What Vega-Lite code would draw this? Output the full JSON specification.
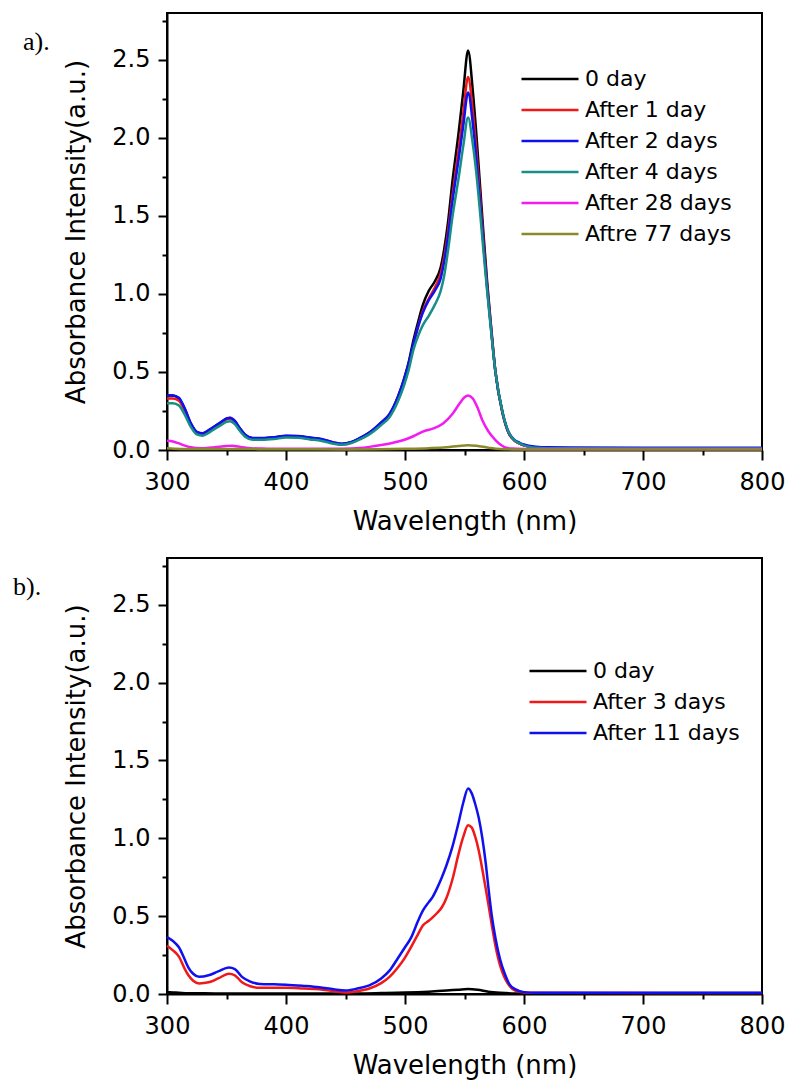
{
  "$schema": "https://vega.github.io/schema/vega-lite/v6.json",
  "background": "white",
  "padding": {"left": 12, "top": 12, "right": 5, "bottom": 5},
  "spacing": 22,
  "resolve": {"scale": {"color": "independent"}, "legend": {"color": "independent"}},
  "config": {
    "font": "DejaVu Sans",
    "view": {"stroke": "black", "strokeWidth": 2},
    "axis": {
      "domainColor": "black", "domainWidth": 2,
      "tickColor": "black", "tickWidth": 2,
      "labelFont": "DejaVu Sans", "labelFontSize": 24, "labelColor": "black",
      "labelPadding": 7, "labelFlush": false, "labelOverlap": false, "labelBound": false,
      "titleFont": "DejaVu Sans", "titleFontSize": 26, "titleFontWeight": "normal", "titleColor": "black",
      "grid": false
    },
    "legend": {
      "labelFont": "DejaVu Sans", "labelFontSize": 22, "labelColor": "black", "labelLimit": 400,
      "symbolType": "M-3,0H3", "symbolSize": 361, "symbolStrokeWidth": 2.5,
      "symbolOffset": 18, "labelOffset": 24, "rowPadding": 9
    },
    "title": {"font": "Liberation Serif", "fontSize": 26, "fontWeight": "normal", "color": "black", "anchor": "start", "frame": "group"}
  },
  "datasets": {
    "a": [
      {"s":"0 day","w":300,"v":0.35},{"s":"0 day","w":305,"v":0.35},{"s":"0 day","w":310,"v":0.33},{"s":"0 day","w":315,"v":0.26},{"s":"0 day","w":320,"v":0.17},{"s":"0 day","w":325,"v":0.115},{"s":"0 day","w":330,"v":0.105},{"s":"0 day","w":335,"v":0.125},{"s":"0 day","w":340,"v":0.15},{"s":"0 day","w":345,"v":0.175},{"s":"0 day","w":350,"v":0.2},{"s":"0 day","w":353,"v":0.205},{"s":"0 day","w":357,"v":0.185},{"s":"0 day","w":361,"v":0.14},{"s":"0 day","w":366,"v":0.095},{"s":"0 day","w":372,"v":0.075},{"s":"0 day","w":380,"v":0.075},{"s":"0 day","w":390,"v":0.08},{"s":"0 day","w":400,"v":0.09},{"s":"0 day","w":410,"v":0.088},{"s":"0 day","w":420,"v":0.078},{"s":"0 day","w":430,"v":0.068},{"s":"0 day","w":440,"v":0.047},{"s":"0 day","w":447,"v":0.038},{"s":"0 day","w":455,"v":0.05},{"s":"0 day","w":462,"v":0.075},{"s":"0 day","w":470,"v":0.11},{"s":"0 day","w":480,"v":0.175},{"s":"0 day","w":487,"v":0.23},{"s":"0 day","w":494,"v":0.34},{"s":"0 day","w":499,"v":0.45},{"s":"0 day","w":503,"v":0.56},{"s":"0 day","w":507,"v":0.7},{"s":"0 day","w":511,"v":0.82},{"s":"0 day","w":515,"v":0.93},{"s":"0 day","w":520,"v":1.02},{"s":"0 day","w":525,"v":1.08},{"s":"0 day","w":530,"v":1.17},{"s":"0 day","w":533,"v":1.29},{"s":"0 day","w":536,"v":1.45},{"s":"0 day","w":540,"v":1.73},{"s":"0 day","w":545,"v":2.03},{"s":"0 day","w":549,"v":2.3},{"s":"0 day","w":553,"v":2.56},{"s":"0 day","w":557,"v":2.3},{"s":"0 day","w":560,"v":2.02},{"s":"0 day","w":563,"v":1.7},{"s":"0 day","w":566,"v":1.38},{"s":"0 day","w":569,"v":1.08},{"s":"0 day","w":572,"v":0.82},{"s":"0 day","w":576,"v":0.5},{"s":"0 day","w":582,"v":0.235},{"s":"0 day","w":587,"v":0.11},{"s":"0 day","w":592,"v":0.06},{"s":"0 day","w":596,"v":0.043},{"s":"0 day","w":600,"v":0.03},{"s":"0 day","w":605,"v":0.02},{"s":"0 day","w":610,"v":0.015},{"s":"0 day","w":620,"v":0.012},{"s":"0 day","w":700,"v":0.01},{"s":"0 day","w":800,"v":0.01},

      {"s":"After 1 day","w":300,"v":0.33},{"s":"After 1 day","w":305,"v":0.33},{"s":"After 1 day","w":310,"v":0.315},{"s":"After 1 day","w":315,"v":0.25},{"s":"After 1 day","w":320,"v":0.165},{"s":"After 1 day","w":325,"v":0.112},{"s":"After 1 day","w":330,"v":0.102},{"s":"After 1 day","w":335,"v":0.122},{"s":"After 1 day","w":340,"v":0.147},{"s":"After 1 day","w":345,"v":0.172},{"s":"After 1 day","w":350,"v":0.196},{"s":"After 1 day","w":353,"v":0.2},{"s":"After 1 day","w":357,"v":0.18},{"s":"After 1 day","w":361,"v":0.137},{"s":"After 1 day","w":366,"v":0.093},{"s":"After 1 day","w":372,"v":0.073},{"s":"After 1 day","w":380,"v":0.073},{"s":"After 1 day","w":390,"v":0.078},{"s":"After 1 day","w":400,"v":0.088},{"s":"After 1 day","w":410,"v":0.086},{"s":"After 1 day","w":420,"v":0.076},{"s":"After 1 day","w":430,"v":0.066},{"s":"After 1 day","w":440,"v":0.046},{"s":"After 1 day","w":447,"v":0.037},{"s":"After 1 day","w":455,"v":0.049},{"s":"After 1 day","w":462,"v":0.073},{"s":"After 1 day","w":470,"v":0.108},{"s":"After 1 day","w":480,"v":0.172},{"s":"After 1 day","w":487,"v":0.225},{"s":"After 1 day","w":494,"v":0.33},{"s":"After 1 day","w":499,"v":0.44},{"s":"After 1 day","w":503,"v":0.54},{"s":"After 1 day","w":507,"v":0.67},{"s":"After 1 day","w":511,"v":0.79},{"s":"After 1 day","w":515,"v":0.89},{"s":"After 1 day","w":520,"v":0.97},{"s":"After 1 day","w":525,"v":1.04},{"s":"After 1 day","w":530,"v":1.13},{"s":"After 1 day","w":533,"v":1.24},{"s":"After 1 day","w":536,"v":1.39},{"s":"After 1 day","w":540,"v":1.64},{"s":"After 1 day","w":545,"v":1.92},{"s":"After 1 day","w":549,"v":2.16},{"s":"After 1 day","w":553,"v":2.39},{"s":"After 1 day","w":557,"v":2.17},{"s":"After 1 day","w":560,"v":1.92},{"s":"After 1 day","w":563,"v":1.63},{"s":"After 1 day","w":566,"v":1.33},{"s":"After 1 day","w":569,"v":1.05},{"s":"After 1 day","w":572,"v":0.81},{"s":"After 1 day","w":576,"v":0.5},{"s":"After 1 day","w":582,"v":0.235},{"s":"After 1 day","w":587,"v":0.11},{"s":"After 1 day","w":592,"v":0.06},{"s":"After 1 day","w":596,"v":0.043},{"s":"After 1 day","w":600,"v":0.03},{"s":"After 1 day","w":605,"v":0.02},{"s":"After 1 day","w":610,"v":0.015},{"s":"After 1 day","w":620,"v":0.012},{"s":"After 1 day","w":700,"v":0.01},{"s":"After 1 day","w":800,"v":0.01},

      {"s":"After 2 days","w":300,"v":0.35},{"s":"After 2 days","w":305,"v":0.35},{"s":"After 2 days","w":310,"v":0.335},{"s":"After 2 days","w":315,"v":0.265},{"s":"After 2 days","w":320,"v":0.172},{"s":"After 2 days","w":325,"v":0.117},{"s":"After 2 days","w":330,"v":0.107},{"s":"After 2 days","w":335,"v":0.127},{"s":"After 2 days","w":340,"v":0.152},{"s":"After 2 days","w":345,"v":0.177},{"s":"After 2 days","w":350,"v":0.202},{"s":"After 2 days","w":353,"v":0.207},{"s":"After 2 days","w":357,"v":0.187},{"s":"After 2 days","w":361,"v":0.142},{"s":"After 2 days","w":366,"v":0.097},{"s":"After 2 days","w":372,"v":0.077},{"s":"After 2 days","w":380,"v":0.077},{"s":"After 2 days","w":390,"v":0.082},{"s":"After 2 days","w":400,"v":0.092},{"s":"After 2 days","w":410,"v":0.09},{"s":"After 2 days","w":420,"v":0.08},{"s":"After 2 days","w":430,"v":0.07},{"s":"After 2 days","w":440,"v":0.049},{"s":"After 2 days","w":447,"v":0.04},{"s":"After 2 days","w":455,"v":0.052},{"s":"After 2 days","w":462,"v":0.077},{"s":"After 2 days","w":470,"v":0.112},{"s":"After 2 days","w":480,"v":0.177},{"s":"After 2 days","w":487,"v":0.23},{"s":"After 2 days","w":494,"v":0.34},{"s":"After 2 days","w":499,"v":0.45},{"s":"After 2 days","w":503,"v":0.55},{"s":"After 2 days","w":507,"v":0.68},{"s":"After 2 days","w":511,"v":0.79},{"s":"After 2 days","w":515,"v":0.88},{"s":"After 2 days","w":520,"v":0.96},{"s":"After 2 days","w":525,"v":1.02},{"s":"After 2 days","w":530,"v":1.1},{"s":"After 2 days","w":533,"v":1.21},{"s":"After 2 days","w":536,"v":1.36},{"s":"After 2 days","w":540,"v":1.6},{"s":"After 2 days","w":545,"v":1.86},{"s":"After 2 days","w":549,"v":2.08},{"s":"After 2 days","w":553,"v":2.29},{"s":"After 2 days","w":557,"v":2.09},{"s":"After 2 days","w":560,"v":1.86},{"s":"After 2 days","w":563,"v":1.59},{"s":"After 2 days","w":566,"v":1.31},{"s":"After 2 days","w":569,"v":1.04},{"s":"After 2 days","w":572,"v":0.8},{"s":"After 2 days","w":576,"v":0.5},{"s":"After 2 days","w":582,"v":0.24},{"s":"After 2 days","w":587,"v":0.115},{"s":"After 2 days","w":592,"v":0.065},{"s":"After 2 days","w":596,"v":0.048},{"s":"After 2 days","w":600,"v":0.035},{"s":"After 2 days","w":605,"v":0.026},{"s":"After 2 days","w":610,"v":0.021},{"s":"After 2 days","w":620,"v":0.017},{"s":"After 2 days","w":700,"v":0.015},{"s":"After 2 days","w":800,"v":0.015},

      {"s":"After 4 days","w":300,"v":0.3},{"s":"After 4 days","w":305,"v":0.3},{"s":"After 4 days","w":310,"v":0.285},{"s":"After 4 days","w":315,"v":0.225},{"s":"After 4 days","w":320,"v":0.148},{"s":"After 4 days","w":325,"v":0.1},{"s":"After 4 days","w":330,"v":0.092},{"s":"After 4 days","w":335,"v":0.11},{"s":"After 4 days","w":340,"v":0.135},{"s":"After 4 days","w":345,"v":0.158},{"s":"After 4 days","w":350,"v":0.18},{"s":"After 4 days","w":353,"v":0.185},{"s":"After 4 days","w":357,"v":0.166},{"s":"After 4 days","w":361,"v":0.125},{"s":"After 4 days","w":366,"v":0.083},{"s":"After 4 days","w":372,"v":0.065},{"s":"After 4 days","w":380,"v":0.065},{"s":"After 4 days","w":390,"v":0.07},{"s":"After 4 days","w":400,"v":0.08},{"s":"After 4 days","w":410,"v":0.078},{"s":"After 4 days","w":420,"v":0.068},{"s":"After 4 days","w":430,"v":0.058},{"s":"After 4 days","w":440,"v":0.04},{"s":"After 4 days","w":447,"v":0.033},{"s":"After 4 days","w":455,"v":0.045},{"s":"After 4 days","w":462,"v":0.068},{"s":"After 4 days","w":470,"v":0.1},{"s":"After 4 days","w":480,"v":0.16},{"s":"After 4 days","w":487,"v":0.21},{"s":"After 4 days","w":494,"v":0.31},{"s":"After 4 days","w":499,"v":0.41},{"s":"After 4 days","w":503,"v":0.51},{"s":"After 4 days","w":507,"v":0.64},{"s":"After 4 days","w":511,"v":0.73},{"s":"After 4 days","w":515,"v":0.8},{"s":"After 4 days","w":520,"v":0.86},{"s":"After 4 days","w":525,"v":0.93},{"s":"After 4 days","w":530,"v":1.02},{"s":"After 4 days","w":533,"v":1.12},{"s":"After 4 days","w":536,"v":1.27},{"s":"After 4 days","w":540,"v":1.5},{"s":"After 4 days","w":545,"v":1.74},{"s":"After 4 days","w":549,"v":1.95},{"s":"After 4 days","w":553,"v":2.13},{"s":"After 4 days","w":557,"v":1.96},{"s":"After 4 days","w":560,"v":1.77},{"s":"After 4 days","w":563,"v":1.53},{"s":"After 4 days","w":566,"v":1.27},{"s":"After 4 days","w":569,"v":1.02},{"s":"After 4 days","w":572,"v":0.79},{"s":"After 4 days","w":576,"v":0.5},{"s":"After 4 days","w":582,"v":0.24},{"s":"After 4 days","w":587,"v":0.115},{"s":"After 4 days","w":592,"v":0.062},{"s":"After 4 days","w":596,"v":0.044},{"s":"After 4 days","w":600,"v":0.03},{"s":"After 4 days","w":605,"v":0.02},{"s":"After 4 days","w":610,"v":0.015},{"s":"After 4 days","w":620,"v":0.012},{"s":"After 4 days","w":700,"v":0.01},{"s":"After 4 days","w":800,"v":0.01},

      {"s":"After 28 days","w":300,"v":0.06},{"s":"After 28 days","w":305,"v":0.055},{"s":"After 28 days","w":310,"v":0.042},{"s":"After 28 days","w":315,"v":0.028},{"s":"After 28 days","w":320,"v":0.018},{"s":"After 28 days","w":325,"v":0.013},{"s":"After 28 days","w":330,"v":0.012},{"s":"After 28 days","w":340,"v":0.018},{"s":"After 28 days","w":350,"v":0.026},{"s":"After 28 days","w":355,"v":0.028},{"s":"After 28 days","w":360,"v":0.022},{"s":"After 28 days","w":370,"v":0.012},{"s":"After 28 days","w":380,"v":0.009},{"s":"After 28 days","w":400,"v":0.008},{"s":"After 28 days","w":420,"v":0.008},{"s":"After 28 days","w":440,"v":0.008},{"s":"After 28 days","w":455,"v":0.01},{"s":"After 28 days","w":462,"v":0.013},{"s":"After 28 days","w":470,"v":0.02},{"s":"After 28 days","w":480,"v":0.032},{"s":"After 28 days","w":490,"v":0.047},{"s":"After 28 days","w":499,"v":0.064},{"s":"After 28 days","w":507,"v":0.088},{"s":"After 28 days","w":515,"v":0.118},{"s":"After 28 days","w":524,"v":0.138},{"s":"After 28 days","w":532,"v":0.17},{"s":"After 28 days","w":540,"v":0.232},{"s":"After 28 days","w":546,"v":0.3},{"s":"After 28 days","w":550,"v":0.338},{"s":"After 28 days","w":553,"v":0.35},{"s":"After 28 days","w":557,"v":0.33},{"s":"After 28 days","w":561,"v":0.27},{"s":"After 28 days","w":565,"v":0.19},{"s":"After 28 days","w":570,"v":0.12},{"s":"After 28 days","w":576,"v":0.064},{"s":"After 28 days","w":581,"v":0.03},{"s":"After 28 days","w":585,"v":0.014},{"s":"After 28 days","w":590,"v":0.009},{"s":"After 28 days","w":600,"v":0.007},{"s":"After 28 days","w":620,"v":0.006},{"s":"After 28 days","w":700,"v":0.006},{"s":"After 28 days","w":800,"v":0.006},

      {"s":" Aftre 77 days","w":300,"v":0.012},{"s":" Aftre 77 days","w":320,"v":0.006},{"s":" Aftre 77 days","w":350,"v":0.006},{"s":" Aftre 77 days","w":400,"v":0.005},{"s":" Aftre 77 days","w":450,"v":0.004},{"s":" Aftre 77 days","w":500,"v":0.008},{"s":" Aftre 77 days","w":520,"v":0.012},{"s":" Aftre 77 days","w":535,"v":0.018},{"s":" Aftre 77 days","w":545,"v":0.026},{"s":" Aftre 77 days","w":553,"v":0.031},{"s":" Aftre 77 days","w":560,"v":0.027},{"s":" Aftre 77 days","w":570,"v":0.015},{"s":" Aftre 77 days","w":580,"v":0.006},{"s":" Aftre 77 days","w":590,"v":0.004},{"s":" Aftre 77 days","w":620,"v":0.004},{"s":" Aftre 77 days","w":800,"v":0.004}
    ],
    "b": [
      {"s":"0 day","w":300,"v":0.012},{"s":"0 day","w":305,"v":0.01},{"s":"0 day","w":310,"v":0.008},{"s":"0 day","w":318,"v":0.005},{"s":"0 day","w":340,"v":0.004},{"s":"0 day","w":400,"v":0.004},{"s":"0 day","w":460,"v":0.004},{"s":"0 day","w":480,"v":0.006},{"s":"0 day","w":500,"v":0.009},{"s":"0 day","w":520,"v":0.015},{"s":"0 day","w":535,"v":0.022},{"s":"0 day","w":545,"v":0.028},{"s":"0 day","w":553,"v":0.032},{"s":"0 day","w":561,"v":0.027},{"s":"0 day","w":570,"v":0.015},{"s":"0 day","w":580,"v":0.008},{"s":"0 day","w":593,"v":0.004},{"s":"0 day","w":800,"v":0.004},

      {"s":"After 3 days","w":300,"v":0.31},{"s":"After 3 days","w":305,"v":0.28},{"s":"After 3 days","w":310,"v":0.24},{"s":"After 3 days","w":315,"v":0.16},{"s":"After 3 days","w":318,"v":0.12},{"s":"After 3 days","w":322,"v":0.085},{"s":"After 3 days","w":327,"v":0.068},{"s":"After 3 days","w":335,"v":0.075},{"s":"After 3 days","w":343,"v":0.1},{"s":"After 3 days","w":352,"v":0.13},{"s":"After 3 days","w":357,"v":0.12},{"s":"After 3 days","w":363,"v":0.075},{"s":"After 3 days","w":370,"v":0.05},{"s":"After 3 days","w":378,"v":0.04},{"s":"After 3 days","w":390,"v":0.04},{"s":"After 3 days","w":400,"v":0.04},{"s":"After 3 days","w":415,"v":0.035},{"s":"After 3 days","w":428,"v":0.03},{"s":"After 3 days","w":440,"v":0.018},{"s":"After 3 days","w":450,"v":0.01},{"s":"After 3 days","w":460,"v":0.018},{"s":"After 3 days","w":470,"v":0.035},{"s":"After 3 days","w":480,"v":0.07},{"s":"After 3 days","w":487,"v":0.11},{"s":"After 3 days","w":494,"v":0.17},{"s":"After 3 days","w":500,"v":0.234},{"s":"After 3 days","w":505,"v":0.3},{"s":"After 3 days","w":511,"v":0.385},{"s":"After 3 days","w":515,"v":0.44},{"s":"After 3 days","w":520,"v":0.47},{"s":"After 3 days","w":523,"v":0.49},{"s":"After 3 days","w":527,"v":0.52},{"s":"After 3 days","w":531,"v":0.557},{"s":"After 3 days","w":535,"v":0.62},{"s":"After 3 days","w":540,"v":0.74},{"s":"After 3 days","w":545,"v":0.9},{"s":"After 3 days","w":549,"v":1.01},{"s":"After 3 days","w":553,"v":1.084},{"s":"After 3 days","w":556,"v":1.07},{"s":"After 3 days","w":559,"v":1.01},{"s":"After 3 days","w":562,"v":0.92},{"s":"After 3 days","w":565,"v":0.8},{"s":"After 3 days","w":568,"v":0.67},{"s":"After 3 days","w":570,"v":0.58},{"s":"After 3 days","w":573,"v":0.44},{"s":"After 3 days","w":576,"v":0.31},{"s":"After 3 days","w":580,"v":0.18},{"s":"After 3 days","w":584,"v":0.1},{"s":"After 3 days","w":588,"v":0.05},{"s":"After 3 days","w":593,"v":0.02},{"s":"After 3 days","w":600,"v":0.01},{"s":"After 3 days","w":610,"v":0.008},{"s":"After 3 days","w":800,"v":0.006},

      {"s":"After 11 days","w":300,"v":0.365},{"s":"After 11 days","w":305,"v":0.34},{"s":"After 11 days","w":310,"v":0.3},{"s":"After 11 days","w":315,"v":0.22},{"s":"After 11 days","w":318,"v":0.17},{"s":"After 11 days","w":322,"v":0.13},{"s":"After 11 days","w":327,"v":0.11},{"s":"After 11 days","w":335,"v":0.12},{"s":"After 11 days","w":343,"v":0.145},{"s":"After 11 days","w":352,"v":0.17},{"s":"After 11 days","w":357,"v":0.16},{"s":"After 11 days","w":363,"v":0.11},{"s":"After 11 days","w":370,"v":0.08},{"s":"After 11 days","w":378,"v":0.065},{"s":"After 11 days","w":390,"v":0.062},{"s":"After 11 days","w":400,"v":0.06},{"s":"After 11 days","w":415,"v":0.052},{"s":"After 11 days","w":428,"v":0.043},{"s":"After 11 days","w":440,"v":0.03},{"s":"After 11 days","w":450,"v":0.022},{"s":"After 11 days","w":460,"v":0.035},{"s":"After 11 days","w":470,"v":0.055},{"s":"After 11 days","w":480,"v":0.1},{"s":"After 11 days","w":487,"v":0.15},{"s":"After 11 days","w":494,"v":0.23},{"s":"After 11 days","w":500,"v":0.3},{"s":"After 11 days","w":505,"v":0.36},{"s":"After 11 days","w":511,"v":0.47},{"s":"After 11 days","w":515,"v":0.535},{"s":"After 11 days","w":520,"v":0.59},{"s":"After 11 days","w":523,"v":0.62},{"s":"After 11 days","w":527,"v":0.68},{"s":"After 11 days","w":531,"v":0.75},{"s":"After 11 days","w":535,"v":0.83},{"s":"After 11 days","w":540,"v":0.95},{"s":"After 11 days","w":545,"v":1.1},{"s":"After 11 days","w":549,"v":1.23},{"s":"After 11 days","w":553,"v":1.32},{"s":"After 11 days","w":556,"v":1.29},{"s":"After 11 days","w":559,"v":1.22},{"s":"After 11 days","w":562,"v":1.13},{"s":"After 11 days","w":565,"v":1.0},{"s":"After 11 days","w":568,"v":0.83},{"s":"After 11 days","w":570,"v":0.69},{"s":"After 11 days","w":573,"v":0.5},{"s":"After 11 days","w":576,"v":0.36},{"s":"After 11 days","w":580,"v":0.22},{"s":"After 11 days","w":584,"v":0.127},{"s":"After 11 days","w":588,"v":0.06},{"s":"After 11 days","w":593,"v":0.03},{"s":"After 11 days","w":600,"v":0.012},{"s":"After 11 days","w":610,"v":0.008},{"s":"After 11 days","w":800,"v":0.008}
    ]
  },
  "vconcat": [
    {
      "width": 595,
      "height": 437,
      "title": {"text": "a).", "dx": -144, "offset": -42},
      "data": {"name": "a"},
      "layer": [
        {
          "mark": {"type": "line", "strokeWidth": 2.5, "interpolate": "monotone"},
          "encoding": {
            "x": {"field": "w", "type": "quantitative", "title": "Wavelength (nm)",
                  "scale": {"domain": [300, 800], "nice": false, "zero": false},
                  "axis": {"orient": "bottom", "values": [300, 400, 500, 600, 700, 800], "tickSize": 10, "labelPadding": 10, "titlePadding": 14}},
            "y": {"field": "v", "type": "quantitative", "title": "Absorbance Intensity(a.u.)",
                  "scale": {"domain": [0, 2.8], "nice": false},
                  "axis": {"orient": "left", "values": [0, 0.5, 1, 1.5, 2, 2.5], "format": ".1f", "tickSize": 9, "labelPadding": 8, "titlePadding": 22}},
            "color": {"field": "s", "type": "nominal",
                      "scale": {"domain": ["0 day", "After 1 day", "After 2 days", "After 4 days", "After 28 days", " Aftre 77 days"],
                                "range": ["#000000", "#f01818", "#1010ee", "#178f88", "#f21cf2", "#8a8a2c"]},
                      "legend": {"title": null, "orient": "none", "legendX": 354, "legendY": 55}}
          }
        },
        {
          "mark": {"type": "point", "opacity": 0},
          "encoding": {
            "x": {"field": "w", "type": "quantitative",
                  "axis": {"orient": "bottom", "values": [350, 450, 550, 650, 750], "tickSize": 5, "labels": false, "domain": false, "title": null}},
            "y": {"field": "v", "type": "quantitative",
                  "axis": {"orient": "left", "values": [0.25, 0.75, 1.25, 1.75, 2.25, 2.75], "tickSize": 5, "labels": false, "domain": false, "title": null}}
          }
        }
      ],
      "resolve": {"axis": {"x": "independent", "y": "independent"}}
    },
    {
      "width": 595,
      "height": 436,
      "title": {"text": "b).", "dx": -154, "offset": -42},
      "data": {"name": "b"},
      "layer": [
        {
          "mark": {"type": "line", "strokeWidth": 2.5, "interpolate": "monotone"},
          "encoding": {
            "x": {"field": "w", "type": "quantitative", "title": "Wavelength (nm)",
                  "scale": {"domain": [300, 800], "nice": false, "zero": false},
                  "axis": {"orient": "bottom", "values": [300, 400, 500, 600, 700, 800], "tickSize": 10, "labelPadding": 10, "titlePadding": 14}},
            "y": {"field": "v", "type": "quantitative", "title": "Absorbance Intensity(a.u.)",
                  "scale": {"domain": [0, 2.8], "nice": false},
                  "axis": {"orient": "left", "values": [0, 0.5, 1, 1.5, 2, 2.5], "format": ".1f", "tickSize": 9, "labelPadding": 8, "titlePadding": 22}},
            "color": {"field": "s", "type": "nominal",
                      "scale": {"domain": ["0 day", "After 3 days", "After 11 days"],
                                "range": ["#000000", "#f01818", "#1010ee"]},
                      "legend": {"title": null, "orient": "none", "legendX": 362, "legendY": 102}}
          }
        },
        {
          "mark": {"type": "point", "opacity": 0},
          "encoding": {
            "x": {"field": "w", "type": "quantitative",
                  "axis": {"orient": "bottom", "values": [350, 450, 550, 650, 750], "tickSize": 5, "labels": false, "domain": false, "title": null}},
            "y": {"field": "v", "type": "quantitative",
                  "axis": {"orient": "left", "values": [0.25, 0.75, 1.25, 1.75, 2.25, 2.75], "tickSize": 5, "labels": false, "domain": false, "title": null}}
          }
        }
      ],
      "resolve": {"axis": {"x": "independent", "y": "independent"}}
    }
  ]
}
